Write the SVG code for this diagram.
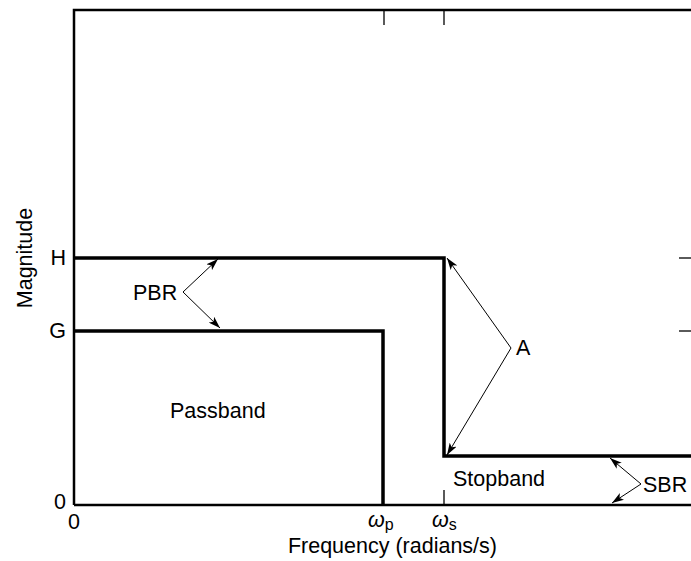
<svg xmlns="http://www.w3.org/2000/svg" width="691" height="561" viewBox="0 0 691 561">
<style>
text{font-family:"Liberation Sans",Arial,sans-serif;font-size:21.5px;fill:#000}
.frame{fill:none;stroke:#000;stroke-width:2.5}
.tick{stroke:#000;stroke-width:1.3}
.resp{fill:none;stroke:#000;stroke-width:3.5}
.ann{fill:none;stroke:#000;stroke-width:1;marker-end:url(#ah)}
</style>
<defs>
<marker id="ah" viewBox="0 0 12 8" refX="12" refY="4" markerWidth="12" markerHeight="8" markerUnits="userSpaceOnUse" orient="auto">
<path d="M0,0 L12,4 L0,8 L3,4 Z" fill="#000"/>
</marker>
</defs>
<rect width="691" height="561" fill="#fff"/>
<g id="axes">
<path class="frame" d="M74,505 V10 H691"/>
<line class="frame" x1="74" y1="505" x2="691" y2="505"/>
<line class="tick" x1="384" y1="10" x2="384" y2="25"/>
<line class="tick" x1="444" y1="10" x2="444" y2="25"/>
<line class="tick" x1="679" y1="258" x2="691" y2="258"/>
<line class="tick" x1="679" y1="331" x2="691" y2="331"/>
<line class="tick" x1="444" y1="490" x2="444" y2="505"/>
</g>
<g id="passband-curve">
<path class="resp" d="M74,331 H383 V505"/>
</g>
<g id="upper-curve">
<path class="resp" d="M74,258 H444 V456 H691"/>
</g>
<g id="connectors">
<path class="ann" d="M183,292 L218,259"/>
<path class="ann" d="M183,292 L220,328"/>
<path class="ann" d="M511,348 L447,258"/>
<path class="ann" d="M511,348 L447,455"/>
<path class="ann" d="M641,484 L610,458"/>
<path class="ann" d="M641,484 L612,503"/>
</g>
<g id="labels">
<text x="133" y="300">PBR</text>
<text x="516" y="355">A</text>
<text x="643" y="492">SBR</text>
<text x="170" y="418">Passband</text>
<text x="453" y="486">Stopband</text>
<text x="66" y="265" text-anchor="end">H</text>
<text x="66" y="338" text-anchor="end">G</text>
<text x="66" y="509" text-anchor="end">0</text>
<text x="74" y="529" text-anchor="middle">0</text>
<text x="368" y="527" font-family="Liberation Serif,serif" font-style="italic">ω<tspan font-family="Liberation Sans,sans-serif" font-style="normal" font-size="16" dy="3">p</tspan></text>
<text x="432" y="527" font-family="Liberation Serif,serif" font-style="italic">ω<tspan font-family="Liberation Sans,sans-serif" font-style="normal" font-size="16" dy="3">s</tspan></text>
<text x="497" y="553" text-anchor="end">Frequency (radians/s)</text>
<text transform="translate(32,258) rotate(-90)" text-anchor="middle">Magnitude</text>
</g>
</svg>
